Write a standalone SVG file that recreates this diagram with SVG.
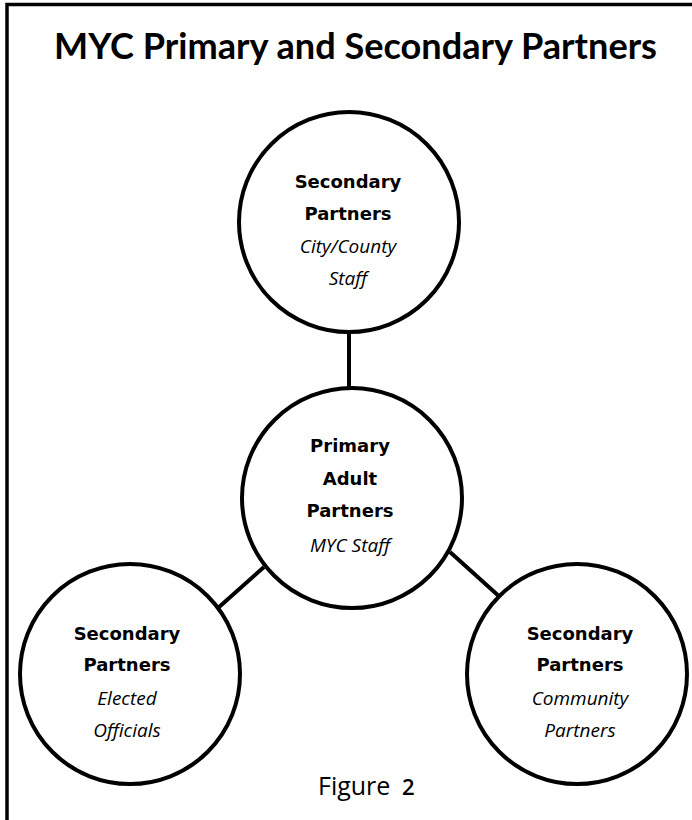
<svg xmlns="http://www.w3.org/2000/svg" width="692" height="820" viewBox="0 0 692 820">
<style>
.node{fill:#fff;stroke:#000;stroke-width:4}
.b{font-family:"DejaVu Sans","Liberation Sans",sans-serif;font-weight:bold;font-size:18px;fill:#000;text-anchor:middle}
.i{font-family:"Open Sans","Liberation Sans",sans-serif;font-style:italic;font-size:19px;fill:#000;text-anchor:middle}
.title{font-family:Lato,"Open Sans","Liberation Sans",sans-serif;font-weight:bold;font-size:37px;fill:#000}
.fig{font-family:"Open Sans","Liberation Sans",sans-serif;font-size:25px;fill:#000}
.conn{stroke:#000;stroke-width:4;fill:none}
</style>
<rect width="692" height="820" fill="#fff"/>
<path d="M7,820 V4.5 H692" fill="none" stroke="#000" stroke-width="3.5"/>
<text class="title" x="54" y="59" textLength="603" lengthAdjust="spacingAndGlyphs">MYC Primary and Secondary Partners</text>
<g id="connectors">
<line class="conn" x1="349" y1="330" x2="349" y2="390"/>
<line class="conn" x1="264" y1="567" x2="218" y2="608"/>
<line class="conn" x1="450" y1="552" x2="501" y2="598"/>
</g>
<g id="top">
<circle class="node" cx="349" cy="222" r="110"/>
<text class="b" x="348" y="188">Secondary</text>
<text class="b" x="348" y="220">Partners</text>
<text class="i" x="348" y="253">City/County</text>
<text class="i" x="348" y="285">Staff</text>
</g>
<g id="middle">
<circle class="node" cx="352" cy="498" r="110"/>
<text class="b" x="350" y="452">Primary</text>
<text class="b" x="350" y="485">Adult</text>
<text class="b" x="350" y="517">Partners</text>
<text class="i" x="350" y="552">MYC Staff</text>
</g>
<g id="left">
<circle class="node" cx="130" cy="674" r="110"/>
<text class="b" x="127" y="640">Secondary</text>
<text class="b" x="127" y="671">Partners</text>
<text class="i" x="127" y="705">Elected</text>
<text class="i" x="127" y="737">Officials</text>
</g>
<g id="right">
<circle class="node" cx="577" cy="674" r="110"/>
<text class="b" x="580" y="640">Secondary</text>
<text class="b" x="580" y="671">Partners</text>
<text class="i" x="580" y="705">Community</text>
<text class="i" x="580" y="737">Partners</text>
</g>
<text class="fig" y="795"><tspan x="318">Figure</tspan><tspan x="402" font-size="22" font-weight="600">2</tspan></text>
</svg>
